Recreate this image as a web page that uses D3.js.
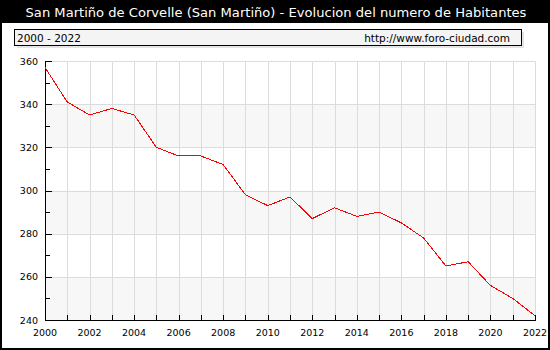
<!DOCTYPE html>
<html>
<head>
<meta charset="utf-8">
<script src="https://cdn.jsdelivr.net/npm/d3@7"></script>
<style>
  html, body { margin: 0; padding: 0; background: #fff; }
  svg { display: block; font-family: "DejaVu Sans", Verdana, sans-serif; }
</style>
</head>
<body>
<svg id="chart" width="550" height="350"></svg>
<script>
// Population of San Martiño de Corvelle, 2000-2022
const years = [2000, 2001, 2002, 2003, 2004, 2005, 2006, 2007, 2008, 2009, 2010,
               2011, 2012, 2013, 2014, 2015, 2016, 2017, 2018, 2019, 2020, 2021, 2022];
const habitantes = [357, 341, 335, 338, 335, 320, 316, 316, 312, 298, 293,
                    297, 287, 292, 288, 290, 285, 278, 265, 267, 256, 250, 242];
const xTickLabels = [2000, 2002, 2004, 2006, 2008, 2010, 2012, 2014, 2016, 2018, 2020, 2022];
const yTickLabels = [240, 260, 280, 300, 320, 340, 360];

const titleText = "San Martiño de Corvelle (San Martiño) - Evolucion del numero de Habitantes";
const rangeText = "2000 - 2022";
const sourceText = "http://www.foro-ciudad.com";

const W = 550, H = 350;
const plot = { left: 45, right: 535, top: 61, bottom: 320 };

const svg = d3.select("#chart");

const x = d3.scaleLinear().domain([2000, 2022]).range([plot.left, plot.right]);
const y = d3.scaleLinear().domain([240, 360]).range([plot.bottom, plot.top]);

svg.append("rect").attr("x", 0).attr("y", 0).attr("width", W).attr("height", H).attr("fill", "#fff");

// Title bar
svg.append("rect").attr("x", 0).attr("y", 0).attr("width", W).attr("height", 23).attr("fill", "#000");
svg.append("text")
  .attr("x", 276).attr("y", 17)
  .attr("text-anchor", "middle")
  .attr("fill", "#fff")
  .attr("font-size", 13.1)
  .text(titleText);

// Legend box with soft shadow
svg.append("rect").attr("x", 17).attr("y", 32).attr("width", 507).attr("height", 16).attr("fill", "#e4e4e4");
svg.append("rect").attr("x", 14.5).attr("y", 29.5).attr("width", 507).attr("height", 16)
  .attr("fill", "#f4f4f4").attr("stroke", "#000").attr("stroke-width", 1);
svg.append("text").attr("x", 17).attr("y", 41.5).attr("font-size", 10.5).attr("fill", "#000").text(rangeText);
svg.append("text").attr("x", 510).attr("y", 41.5).attr("font-size", 10.5).attr("fill", "#000")
  .attr("text-anchor", "end").text(sourceText);

// Alternating horizontal bands
svg.append("g").selectAll("rect")
  .data([240, 280, 320])
  .join("rect")
  .attr("x", plot.left)
  .attr("y", d => y(d + 20))
  .attr("width", plot.right - plot.left)
  .attr("height", d => y(d) - y(d + 20))
  .attr("fill", "#f7f7f7");

// Grid lines
const grid = svg.append("g").attr("stroke", "#dcdcdc").attr("stroke-width", 1).attr("shape-rendering", "crispEdges");
grid.selectAll("line.v")
  .data(years.slice(1))
  .join("line")
  .attr("class", "v")
  .attr("x1", d => Math.round(x(d)) + 0.5).attr("x2", d => Math.round(x(d)) + 0.5)
  .attr("y1", plot.top).attr("y2", plot.bottom);
grid.selectAll("line.h")
  .data(yTickLabels.slice(1))
  .join("line")
  .attr("class", "h")
  .attr("x1", plot.left).attr("x2", plot.right)
  .attr("y1", d => Math.round(y(d)) + 0.5).attr("y2", d => Math.round(y(d)) + 0.5);

// Y axis: labelled ticks every 20, minor ticks every 10, all pointing inward
const yAxis = d3.axisRight(y).tickValues(yTickLabels).tickSize(6).tickFormat("");
const yMinor = d3.axisRight(y).tickValues(d3.range(250, 360, 20)).tickSize(4).tickFormat("");
const gy = svg.append("g").attr("transform", `translate(${plot.left + 0.5},0)`).call(yAxis);
const gyMinor = svg.append("g").attr("transform", `translate(${plot.left + 0.5},0)`).call(yMinor);
[gy, gyMinor].forEach(g => {
  g.select(".domain").attr("stroke", "#000").attr("d", `M0,${plot.top}V${plot.bottom}`);
  g.selectAll(".tick line").attr("stroke", "#000");
  g.attr("shape-rendering", "crispEdges");
});
svg.append("g").selectAll("text")
  .data(yTickLabels)
  .join("text")
  .attr("x", 38).attr("y", d => y(d) + 3.5)
  .attr("text-anchor", "end")
  .attr("font-size", 9.5)
  .attr("fill", "#000")
  .text(d => d);

// X axis: tick at every year pointing up, labels every two years
const xAxis = d3.axisTop(x).tickValues(years).tickSize(6).tickFormat("");
const gx = svg.append("g").attr("transform", `translate(0,${plot.bottom + 0.5})`).call(xAxis);
gx.select(".domain").attr("stroke", "#000").attr("d", `M${plot.left},0H${plot.right}`);
gx.selectAll(".tick line").attr("stroke", "#000");
gx.attr("shape-rendering", "crispEdges");
svg.append("g").selectAll("text")
  .data(xTickLabels)
  .join("text")
  .attr("x", d => x(d)).attr("y", 336)
  .attr("text-anchor", "middle")
  .attr("font-size", 9.5)
  .attr("fill", "#000")
  .text(d => d);

// Population line
const line = d3.line().x((d, i) => x(years[i])).y(d => y(d));
svg.append("path")
  .datum(habitantes)
  .attr("d", line)
  .attr("fill", "none")
  .attr("stroke", "#ff0000")
  .attr("stroke-width", 1)
  .attr("shape-rendering", "crispEdges");

// Outer frame
svg.append("rect").attr("x", 1).attr("y", 1).attr("width", W - 2).attr("height", H - 2)
  .attr("fill", "none").attr("stroke", "#000").attr("stroke-width", 2);
</script>
</body>
</html>
